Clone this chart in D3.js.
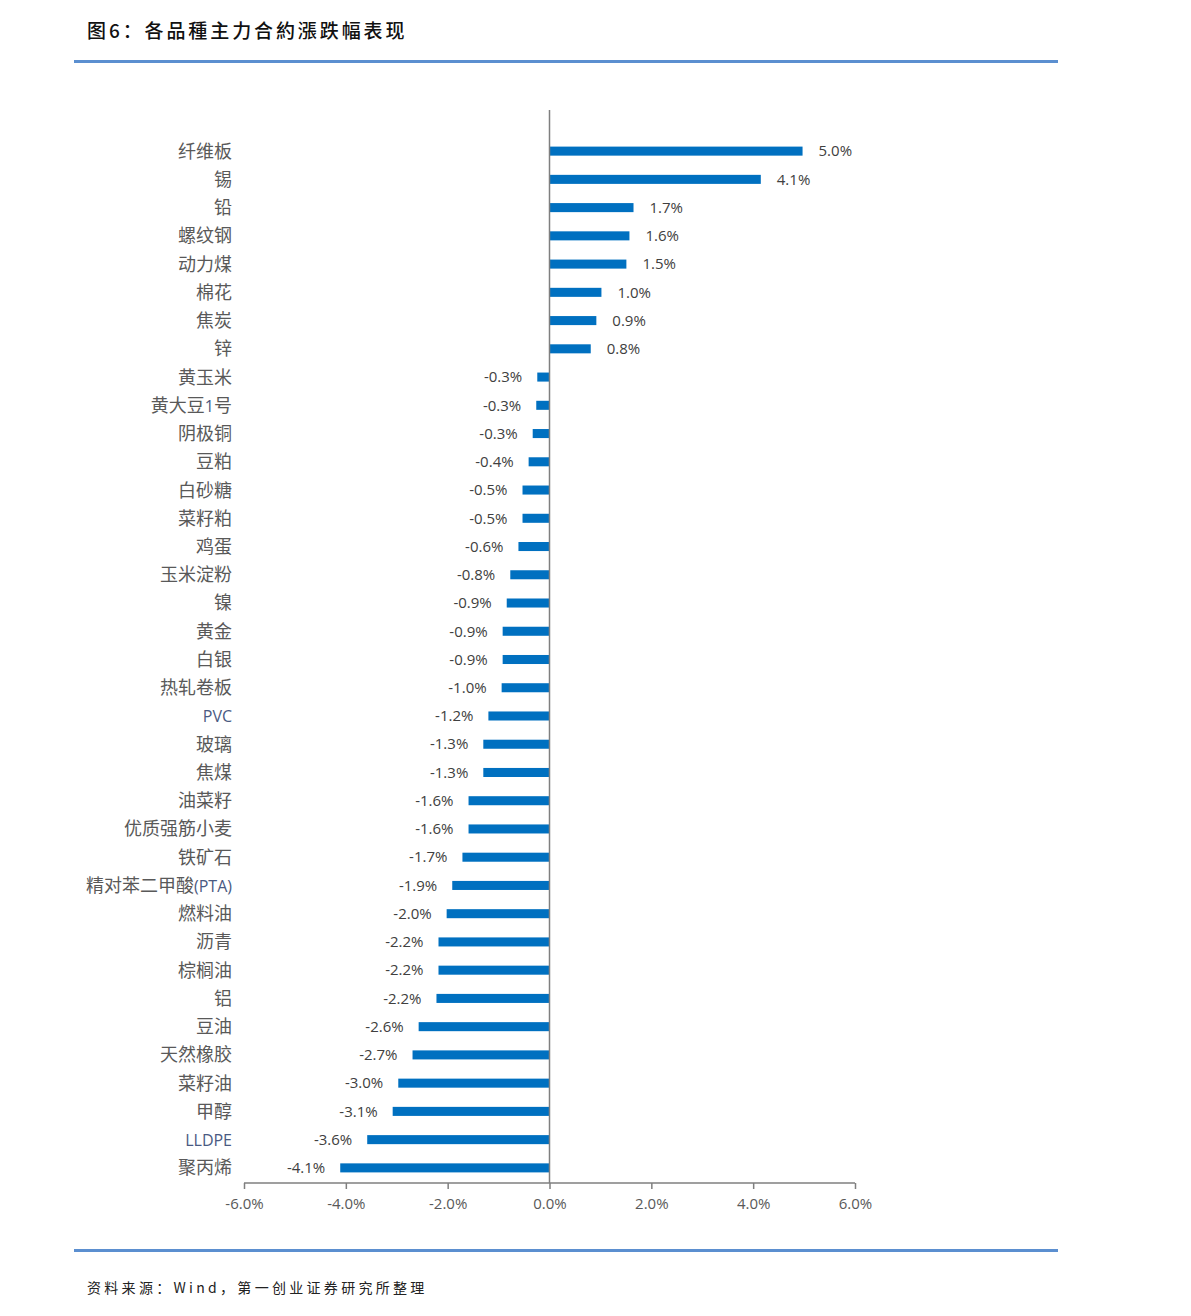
<!DOCTYPE html>
<html>
<head>
<meta charset="utf-8">
<script src="https://cdn.jsdelivr.net/npm/d3@7"></script>
<style>
  body { margin: 0; background: #fff; }
  svg { display: block; }
</style>
</head>
<body>
<script>
// data
var categories = [
    "纤维板", "锡", "铅", "螺纹钢", "动力煤", "棉花", "焦炭", "锌",
    "黄玉米", "黄大豆1号", "阴极铜", "豆粕", "白砂糖", "菜籽粕", "鸡蛋", "玉米淀粉",
    "镍", "黄金", "白银", "热轧卷板", "PVC", "玻璃", "焦煤", "油菜籽",
    "优质强筋小麦", "铁矿石", "精对苯二甲酸(PTA)", "燃料油", "沥青", "棕榈油", "铝", "豆油",
    "天然橡胶", "菜籽油", "甲醇", "LLDPE", "聚丙烯"
];
var values = [
    4.97, 4.15, 1.65, 1.57, 1.51, 1.02, 0.92, 0.81,
    -0.24, -0.26, -0.33, -0.41, -0.53, -0.53, -0.61, -0.77,
    -0.84, -0.92, -0.92, -0.94, -1.20, -1.30, -1.30, -1.59,
    -1.59, -1.71, -1.91, -2.02, -2.18, -2.18, -2.22, -2.57,
    -2.69, -2.97, -3.08, -3.58, -4.11
];
var valueLabels = [
    "5.0%", "4.1%", "1.7%", "1.6%", "1.5%", "1.0%", "0.9%", "0.8%",
    "-0.3%", "-0.3%", "-0.3%", "-0.4%", "-0.5%", "-0.5%", "-0.6%", "-0.8%",
    "-0.9%", "-0.9%", "-0.9%", "-1.0%", "-1.2%", "-1.3%", "-1.3%", "-1.6%",
    "-1.6%", "-1.7%", "-1.9%", "-2.0%", "-2.2%", "-2.2%", "-2.2%", "-2.6%",
    "-2.7%", "-3.0%", "-3.1%", "-3.6%", "-4.1%"
];
var xTicks = [-6, -4, -2, 0, 2, 4, 6];

var title = "图6：各品種主力合約漲跌幅表现";
var source = "资料来源：Wind，第一创业证券研究所整理";

var W = 1191, H = 1316;
var svg = d3.select("body").append("svg")
    .attr("width", W)
    .attr("height", H);

// header and footer
svg.append("text")
    .attr("x", 87).attr("y", 38)
    .style("font-family", "'Noto Sans CJK SC', sans-serif")
    .style("font-size", "19px")
    .style("font-weight", "500")
    .style("letter-spacing", "2.9px")
    .style("fill", "#111")
    .text(title);
svg.append("rect")
    .attr("x", 74).attr("y", 60).attr("width", 984).attr("height", 3)
    .style("fill", "#5b8fd0");
svg.append("rect")
    .attr("x", 74).attr("y", 1249).attr("width", 984).attr("height", 3)
    .style("fill", "#5b8fd0");
svg.append("text")
    .attr("x", 87).attr("y", 1293)
    .style("font-family", "'Noto Sans CJK SC', sans-serif")
    .style("font-size", "14px")
    .style("letter-spacing", "3.3px")
    .style("fill", "#222")
    .text(source);

// scales
var x = d3.scaleLinear().domain([-6, 6]).range([244, 855]);
var y = d3.scaleBand().domain(categories).range([137, 1182]).paddingInner(0.68).paddingOuter(0.34);

var rows = categories.map(function(c, i) {
    return { name: c, value: values[i], label: valueLabels[i] };
});

// bars
svg.append("g").selectAll("rect")
    .data(rows)
    .join("rect")
    .attr("x", function(d) { return x(Math.min(0, d.value)); })
    .attr("y", function(d) { return y(d.name); })
    .attr("width", function(d) { return Math.abs(x(d.value) - x(0)); })
    .attr("height", y.bandwidth())
    .style("fill", "#0070c0");

// value labels
svg.append("g").selectAll("text")
    .data(rows)
    .join("text")
    .attr("x", function(d) { return d.value >= 0 ? x(d.value) + 16 : x(d.value) - 15; })
    .attr("y", function(d) { return y(d.name) + y.bandwidth() / 2; })
    .attr("dy", "0.35em")
    .attr("text-anchor", function(d) { return d.value >= 0 ? "start" : "end"; })
    .style("font-family", "'Open Sans', sans-serif")
    .style("font-size", "15px")
    .style("fill", "#404040")
    .text(function(d) { return d.label; });

// category labels, latin parts tinted like the source
var cat = svg.append("g").selectAll("text")
    .data(rows)
    .join("text")
    .attr("x", 232)
    .attr("y", function(d) { return y(d.name) + y.bandwidth() / 2; })
    .attr("dy", "0.36em")
    .attr("text-anchor", "end")
    .style("font-family", "'Noto Sans CJK SC', sans-serif")
    .style("font-size", "18px")
    .style("fill", "#595959");
cat.each(function(d) {
    var parts = d.name.match(/[A-Za-z0-9()]+|[^A-Za-z0-9()]+/g);
    var t = d3.select(this);
    parts.forEach(function(p) {
        var latin = /[A-Za-z0-9()]/.test(p);
        t.append("tspan")
            .style("fill", latin ? "#4a5a82" : null)
            .style("font-size", latin ? "16px" : null)
            .style("font-family", latin ? "'Open Sans', sans-serif" : null)
            .text(p);
    });
});

// vertical zero line
svg.append("line")
    .attr("x1", x(0)).attr("x2", x(0))
    .attr("y1", 110).attr("y2", 1183)
    .style("stroke", "#7f7f7f")
    .style("stroke-width", 1.5);

// x axis
var xAxis = svg.append("g")
    .attr("transform", "translate(0,1183)")
    .call(d3.axisBottom(x).tickValues(xTicks).tickSize(6)
        .tickFormat(function(d) { return d.toFixed(1) + "%"; }));
xAxis.select(".domain").style("stroke", "#7f7f7f").style("stroke-width", 1.5)
    .attr("d", "M" + x(-6) + ",0H" + x(6));
xAxis.selectAll(".tick line").style("stroke", "#7f7f7f").style("stroke-width", 1.5);
xAxis.selectAll(".tick text")
    .attr("dy", "1.15em")
    .style("font-family", "'Open Sans', sans-serif")
    .style("font-size", "15px")
    .style("fill", "#595959");
</script>
</body>
</html>
